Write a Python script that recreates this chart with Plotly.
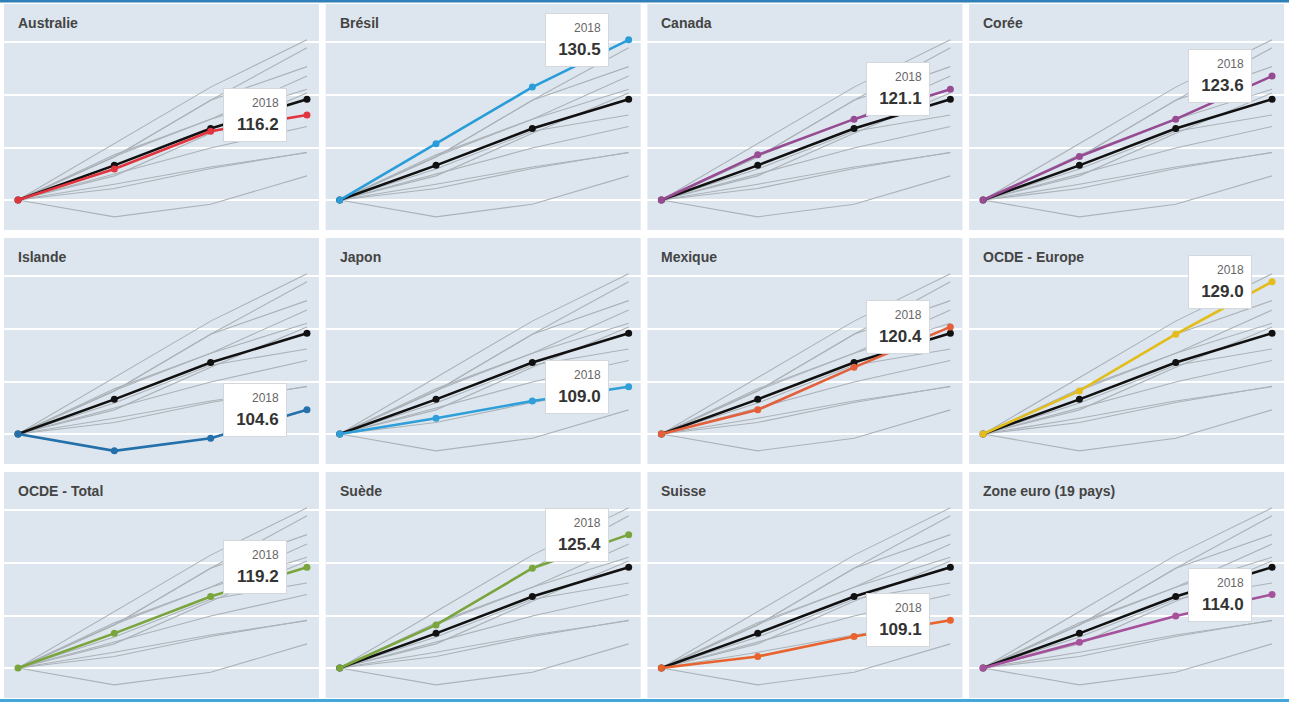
import plotly.graph_objects as go

# ---------------- data ----------------
years = [2000, 2006, 2012, 2018]
countries = ["Australie", "Brésil", "Canada", "Corée",
             "Islande", "Japon", "Mexique", "OCDE - Europe",
             "OCDE - Total", "Suède", "Suisse", "Zone euro (19 pays)"]
australie = [100, 105.9, 113.1, 116.2]
bresil = [100, 110.7, 121.5, 130.5]
canada = [100, 108.6, 115.4, 121.1]
coree = [100, 108.3, 115.4, 123.6]
islande = [100, 96.8, 99.2, 104.6]
japon = [100, 103.0, 106.3, 109.0]
mexique = [100, 104.6, 112.7, 120.4]
ocde_europe = [100, 108.2, 119.0, 129.0]
ocde_total = [100, 106.6, 113.6, 119.2]
suede = [100, 108.2, 119.0, 125.4]
suisse = [100, 102.2, 106.0, 109.1]
zone_euro = [100, 104.9, 109.9, 114.0]
series = [australie, bresil, canada, coree, islande, japon, mexique,
          ocde_europe, ocde_total, suede, suisse, zone_euro]
colors = ["#e2343f", "#2a9dd8", "#974b93", "#974b93",
          "#2470ab", "#2e9fd9", "#e4603a", "#e2bd1c",
          "#7aa53c", "#7aa53c", "#e8632d", "#a6519c"]
gridvals = [100, 110, 120, 130]
ref_name = "OCDE - Total"

# ---------------- layout geometry (pixels) ----------------
W, H = 1289, 702
col_pitch, col_w, col_left0 = 321.7, 315, 4
row_pitch, row_h, row_top0 = 234, 226, 4
FONT = "Liberation Sans"

fig = go.Figure()
annotations = []
ref_vals = series[countries.index(ref_name)]

for i, name in enumerate(countries):
    r, c = divmod(i, 4)
    left = col_left0 + c * col_pitch
    top = row_top0 + r * row_pitch
    k = i + 1
    xa = "x" if k == 1 else f"x{k}"
    ya = "y" if k == 1 else f"y{k}"
    xl = "xaxis" if k == 1 else f"xaxis{k}"
    yl = "yaxis" if k == 1 else f"yaxis{k}"

    fig.update_layout({
        xl: dict(domain=[left / W, (left + col_w) / W], anchor=ya,
                 range=[years[0] - 0.1453 * 6, years[-1] + 0.125 * 6],
                 showgrid=False, zeroline=False, showticklabels=False,
                 showline=False, ticks=""),
        yl: dict(domain=[1 - (top + row_h) / H, 1 - top / H], anchor=xa,
                 range=[94.29, 137.33], tickvals=gridvals,
                 showgrid=True, gridcolor="white", gridwidth=1.6,
                 zeroline=False, showticklabels=False, showline=False,
                 ticks=""),
    })

    # gray background lines for every series
    for vals in series:
        fig.add_trace(go.Scatter(x=years, y=vals, xaxis=xa, yaxis=ya,
                                 mode="lines", line=dict(color="#abb2b8", width=1.1),
                                 hoverinfo="skip", showlegend=False))
    # reference (OCDE - Total) in black
    if name != ref_name:
        fig.add_trace(go.Scatter(x=years, y=ref_vals, xaxis=xa, yaxis=ya,
                                 mode="lines+markers",
                                 line=dict(color="#111111", width=2.6),
                                 marker=dict(color="#111111", size=7),
                                 hoverinfo="skip", showlegend=False))
    # highlighted series
    vals = series[i]
    fig.add_trace(go.Scatter(x=years, y=vals, xaxis=xa, yaxis=ya,
                             mode="lines+markers",
                             line=dict(color=colors[i], width=2.6),
                             marker=dict(color=colors[i], size=7),
                             hoverinfo="skip", showlegend=False))

    # panel title
    annotations.append(dict(
        text=f"<b>{name}</b>", xref="paper", yref="paper",
        x=(left + 12) / W, y=1 - (top + 19) / H,
        xanchor="left", yanchor="middle", showarrow=False,
        font=dict(family=FONT, size=14, color="#444444")))

    # value box
    annotations.append(dict(
        text=f"<span style='font-size:12px;color:#666666'>{years[-1]}</span><br><b>{vals[-1]:.1f}</b>",
        xref=xa, yref=ya, x=years[-1], y=vals[-1],
        xanchor="right", yanchor="middle", xshift=-20,
        showarrow=False, align="right", width=48, height=38,
        borderpad=7, bgcolor="white", bordercolor="#d4d8dc", borderwidth=1,
        font=dict(family=FONT, size=17, color="#333333")))

fig.update_layout(
    width=W, height=H,
    margin=dict(l=0, r=0, t=0, b=0),
    paper_bgcolor="white", plot_bgcolor="#dde6ee",
    showlegend=False,
    annotations=annotations,
    shapes=[
        dict(type="rect", xref="paper", yref="paper", x0=0, x1=1,
             y0=1 - 2.5 / H, y1=1, fillcolor="#2f7fb8", line_width=0, layer="above"),
        dict(type="rect", xref="paper", yref="paper", x0=0, x1=1,
             y0=0, y1=3 / H, fillcolor="#45a6d9", line_width=0, layer="above"),
    ],
)

fig.write_html("out.html")
